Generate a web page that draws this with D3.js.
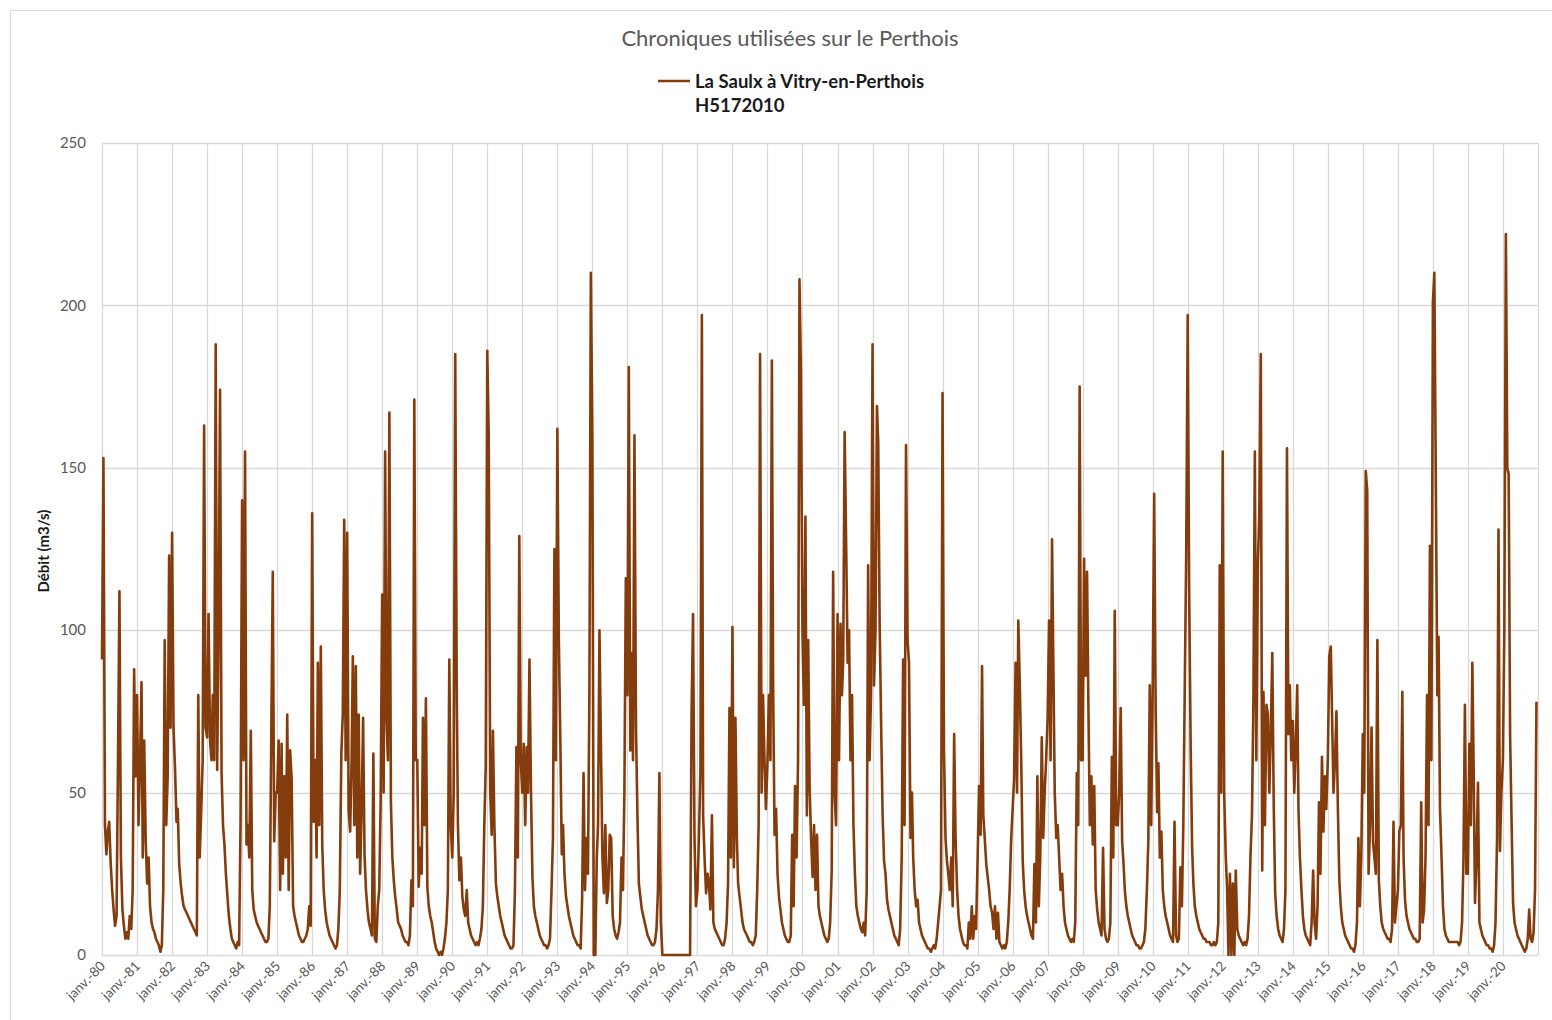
<!DOCTYPE html>
<html>
<head>
<meta charset="utf-8">
<script src="https://cdn.jsdelivr.net/npm/d3@7/dist/d3.min.js"></script>
<style>
  body { margin: 0; background: #fff; }
  text { font-family: Lato, 'Open Sans', sans-serif; }
</style>
</head>
<body>
<div id="chart"></div>
<script>
// daily flow of la Saulx at two values a month (1st and 16th)
const years = d3.range(1980, 2021)

const flows80s = [
  [91, 153, 40, 31, 38, 41, 28, 20, 14, 9, 12, 61, 112, 30, 14, 9, 5, 7, 5, 12, 8, 20, 88, 55],
  [80, 40, 60, 84, 30, 66, 35, 22, 30, 15, 10, 8, 7, 5, 4, 3, 1, 3, 20, 97, 40, 55, 123, 70],
  [130, 70, 57, 41, 45, 28, 22, 18, 15, 14, 13, 12, 11, 10, 9, 8, 7, 6, 80, 30, 45, 60, 163, 70],
  [67, 105, 66, 60, 80, 60, 188, 57, 100, 174, 56, 40, 34, 25, 18, 12, 8, 5, 4, 3, 2, 4, 3, 41],
  [140, 60, 155, 34, 40, 30, 69, 20, 14, 12, 10, 9, 8, 7, 6, 5, 4, 4, 5, 15, 70, 118, 35, 50],
  [50, 66, 20, 65, 25, 55, 30, 74, 20, 63, 54, 15, 12, 10, 8, 6, 5, 4, 4, 5, 6, 8, 15, 9],
  [136, 41, 60, 30, 90, 40, 95, 34, 20, 14, 10, 8, 6, 5, 4, 3, 2, 3, 8, 20, 62, 74, 134, 60],
  [130, 45, 38, 60, 92, 40, 89, 30, 74, 25, 45, 73, 31, 20, 14, 10, 8, 6, 62, 5, 4, 15, 20, 47],
  [111, 50, 155, 72, 60, 167, 47, 30, 23, 18, 14, 10, 9, 8, 6, 5, 4, 4, 3, 6, 23, 15, 171, 60],
  [60, 21, 33, 25, 73, 40, 79, 21, 15, 12, 10, 7, 4, 2, 1, 0, 1, 0, 2, 5, 10, 20, 91, 40]
]

const flows90s = [
  [30, 50, 185, 84, 40, 23, 30, 18, 14, 12, 20, 10, 8, 6, 5, 4, 3, 4, 3, 5, 8, 15, 40, 58],
  [186, 160, 50, 37, 69, 40, 22, 18, 15, 12, 10, 8, 6, 5, 4, 3, 2, 2, 3, 19, 64, 30, 129, 60],
  [50, 65, 40, 64, 50, 91, 50, 24, 15, 12, 10, 8, 6, 5, 4, 3, 3, 2, 3, 5, 20, 36, 125, 60],
  [162, 98, 66, 31, 40, 25, 18, 15, 12, 10, 8, 6, 5, 4, 3, 3, 2, 17, 56, 20, 36, 25, 80, 210],
  [160, 0, 0, 30, 40, 100, 63, 30, 19, 40, 16, 20, 37, 36, 12, 8, 6, 5, 7, 10, 30, 20, 50, 116],
  [80, 181, 63, 93, 60, 160, 70, 43, 22, 18, 14, 12, 10, 8, 6, 5, 4, 3, 3, 4, 8, 20, 56, 10],
  [0, 0, 0, 0, 0, 0, 0, 0, 0, 0, 0, 0, 0, 0, 0, 0, 0, 0, 0, 0, 75, 105, 36, 15],
  [20, 36, 56, 197, 43, 30, 19, 25, 22, 14, 43, 10, 8, 7, 6, 5, 4, 3, 3, 5, 10, 22, 76, 30],
  [101, 27, 73, 36, 22, 18, 14, 10, 8, 7, 6, 5, 4, 4, 3, 4, 6, 20, 40, 185, 50, 80, 60, 45],
  [59, 80, 60, 183, 83, 37, 45, 25, 18, 14, 10, 8, 6, 5, 4, 4, 6, 37, 15, 52, 30, 60, 208, 179]
]

const flows00s = [
  [100, 77, 135, 43, 97, 51, 35, 24, 40, 20, 37, 15, 12, 10, 8, 6, 5, 4, 5, 10, 26, 118, 50, 40],
  [105, 60, 102, 80, 91, 161, 126, 90, 100, 60, 80, 40, 25, 15, 12, 10, 8, 7, 10, 6, 20, 120, 60, 80],
  [188, 83, 100, 169, 158, 102, 70, 43, 29, 25, 17, 14, 12, 10, 8, 6, 5, 4, 3, 8, 30, 91, 40, 157],
  [97, 90, 36, 50, 30, 20, 15, 17, 10, 8, 6, 5, 4, 3, 2, 2, 1, 2, 3, 2, 5, 10, 15, 20],
  [173, 63, 36, 29, 25, 20, 30, 15, 68, 36, 20, 12, 8, 6, 4, 3, 3, 2, 10, 5, 15, 5, 12, 8],
  [30, 52, 37, 89, 43, 36, 28, 24, 20, 15, 13, 8, 15, 5, 13, 4, 3, 2, 3, 2, 4, 10, 20, 35],
  [45, 54, 90, 50, 103, 84, 59, 29, 20, 15, 12, 10, 8, 6, 5, 28, 10, 55, 15, 30, 67, 36, 50, 60],
  [73, 103, 60, 128, 91, 50, 36, 40, 30, 20, 25, 15, 10, 8, 6, 5, 4, 5, 4, 10, 56, 40, 175, 60],
  [60, 122, 86, 118, 77, 40, 55, 34, 52, 20, 14, 10, 8, 6, 33, 8, 5, 4, 5, 10, 61, 30, 106, 40],
  [40, 50, 76, 35, 29, 20, 15, 12, 10, 8, 6, 5, 4, 3, 3, 2, 2, 3, 4, 8, 20, 35, 83, 40]
]

const flows10s = [
  [83, 142, 75, 44, 59, 30, 38, 20, 15, 12, 10, 8, 6, 5, 4, 41, 6, 4, 5, 27, 15, 40, 82, 123],
  [197, 112, 63, 33, 22, 15, 12, 10, 8, 7, 6, 5, 5, 4, 4, 4, 3, 3, 4, 3, 4, 10, 120, 50],
  [155, 50, 31, 20, 0, 25, 0, 22, 0, 26, 8, 6, 5, 4, 3, 4, 3, 5, 12, 30, 43, 78, 155, 60],
  [120, 135, 185, 26, 81, 40, 77, 74, 50, 68, 93, 46, 19, 12, 8, 6, 5, 4, 8, 20, 156, 68, 83, 60],
  [72, 50, 65, 83, 45, 30, 20, 12, 8, 6, 5, 4, 3, 10, 26, 10, 5, 15, 47, 25, 61, 38, 55, 45],
  [60, 92, 95, 71, 50, 59, 75, 45, 23, 15, 10, 8, 6, 5, 4, 3, 2, 2, 1, 3, 10, 36, 15, 30],
  [68, 50, 149, 143, 25, 40, 70, 35, 30, 25, 97, 23, 15, 10, 8, 7, 6, 5, 5, 4, 8, 41, 10, 15],
  [20, 38, 40, 81, 30, 17, 12, 10, 8, 7, 6, 5, 5, 4, 4, 5, 47, 10, 14, 30, 80, 40, 126, 60],
  [201, 210, 143, 80, 98, 45, 30, 15, 8, 6, 5, 4, 4, 4, 4, 4, 4, 4, 3, 4, 10, 30, 77, 25],
  [25, 65, 40, 90, 60, 16, 30, 53, 10, 8, 6, 5, 4, 3, 3, 2, 2, 1, 3, 10, 36, 131, 32, 50],
  [60, 100, 222, 150, 148, 68, 40, 16, 10, 8, 6, 5, 4, 3, 2, 1, 2, 5, 14, 5, 4, 7, 20, 78]
]

const yTicks = [0, 50, 100, 150, 200, 250]
const tickLabel = y => 'janv.-' + String(y).slice(2)

const margin = { top: 143, left: 102, right: 14, bottom: 65 }
const width = 1552 - margin.left - margin.right
const height = 1020 - margin.top - margin.bottom

const root = d3
  .select('#chart')
  .append('svg')
  .attr('width', 1552)
  .attr('height', 1020)

// outer frame of the chart area
root
  .append('rect')
  .attr('x', 10.5)
  .attr('y', 10.5)
  .attr('width', 1600)
  .attr('height', 1100)
  .attr('fill', 'none')
  .attr('stroke', '#d9d9d9')

const svg = root
  .append('g')
  .attr('transform', 'translate(' + margin.left + ',' + margin.top + ')')

// flatten to dated points
const rows = [...flows80s, ...flows90s, ...flows00s, ...flows10s]
const series = []
rows.forEach((row, i) => {
  row.forEach((v, k) => {
    series.push({ date: new Date(years[i], Math.floor(k / 2), k % 2 ? 16 : 1), value: v })
  })
})

const x = d3
  .scaleTime()
  .domain([new Date(1980, 0, 1), new Date(2021, 0, 1)])
  .range([0, width])

const y = d3
  .scaleLinear()
  .domain([0, 250])
  .range([height, 0])

// grid
svg
  .selectAll('.hgrid')
  .data(yTicks)
  .enter()
  .append('line')
  .attr('class', 'hgrid')
  .attr('x1', 0)
  .attr('x2', width)
  .attr('y1', d => Math.round(y(d)) + 0.5)
  .attr('y2', d => Math.round(y(d)) + 0.5)
  .attr('stroke', '#d9d9d9')
  .attr('stroke-width', 1.3)

const janvs = years.concat([2021]).map(yr => new Date(yr, 0, 1))
svg
  .selectAll('.vgrid')
  .data(janvs)
  .enter()
  .append('line')
  .attr('class', 'vgrid')
  .attr('x1', d => Math.round(x(d)) + 0.5)
  .attr('x2', d => Math.round(x(d)) + 0.5)
  .attr('y1', 0)
  .attr('y2', height)
  .attr('stroke', '#d9d9d9')
  .attr('stroke-width', 1.3)

// y ticks
svg
  .selectAll('.ylab')
  .data(yTicks)
  .enter()
  .append('text')
  .attr('class', 'ylab')
  .attr('x', -16)
  .attr('y', d => y(d))
  .attr('dy', '0.35em')
  .attr('text-anchor', 'end')
  .attr('font-size', 15)
  .attr('fill', '#595959')
  .text(d => d)

// x ticks, rotated
svg
  .selectAll('.xlab')
  .data(years)
  .enter()
  .append('text')
  .attr('class', 'xlab')
  .attr('transform', d => `translate(${x(new Date(d, 0, 1)) + 4},${height + 12}) rotate(-45)`)
  .attr('text-anchor', 'end')
  .attr('font-size', 13.5)
  .attr('fill', '#595959')
  .text(d => tickLabel(d))

// the series
const line = d3
  .line()
  .x(d => x(d.date))
  .y(d => y(d.value))

svg
  .append('path')
  .datum(series)
  .attr('d', line)
  .attr('fill', 'none')
  .attr('stroke', '#843c0c')
  .attr('stroke-width', 2.6)
  .attr('stroke-linejoin', 'round')

// y axis title
root
  .append('text')
  .attr('transform', 'translate(49,551) rotate(-90)')
  .attr('text-anchor', 'middle')
  .attr('font-size', 15)
  .attr('font-weight', 'bold')
  .attr('fill', '#1a1a1a')
  .text('Débit (m3/s)')

// title
root
  .append('text')
  .attr('x', 790)
  .attr('y', 46)
  .attr('text-anchor', 'middle')
  .attr('font-size', 22)
  .attr('fill', '#595959')
  .text('Chroniques utilisées sur le Perthois')

// legend
root
  .append('line')
  .attr('x1', 658)
  .attr('x2', 690)
  .attr('y1', 81)
  .attr('y2', 81)
  .attr('stroke', '#843c0c')
  .attr('stroke-width', 2.5)

const legendLines = ['La Saulx à Vitry-en-Perthois', 'H5172010']
root
  .selectAll('.leg')
  .data(legendLines)
  .enter()
  .append('text')
  .attr('class', 'leg')
  .attr('x', 695)
  .attr('y', (d, i) => 88 + i * 24)
  .attr('font-size', 18.5)
  .attr('font-weight', 'bold')
  .attr('fill', '#1a1a1a')
  .text(d => d)
</script>
</body>
</html>
